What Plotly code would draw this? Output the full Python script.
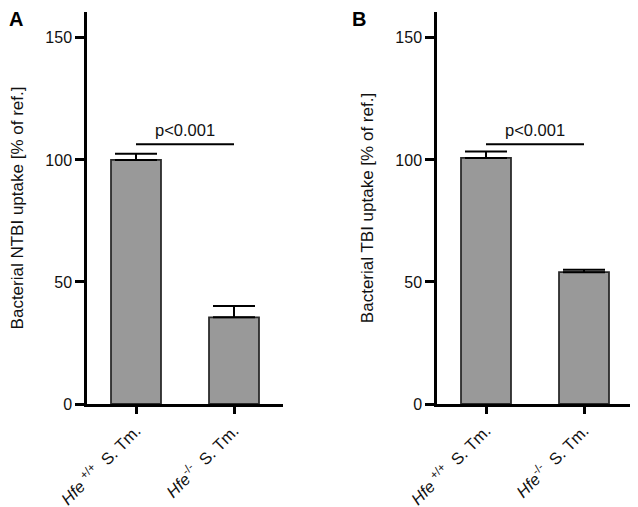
import plotly.graph_objects as go

categories = ["<i>Hfe</i> <sup>+/+</sup>  S. Tm.", "<i>Hfe</i><sup>-/-</sup>  S. Tm."]
ntbi_values = [100.0, 35.5]
ntbi_err = [2.5, 4.7]
tbi_values = [100.8, 54.0]
tbi_err = [2.6, 1.0]
y_ticks = [0, 50, 100, 150]
sig_level = 106.4
sig_text = "p<0.001"

FONT = "Liberation Sans, Arial, sans-serif"
fig = go.Figure()

for vals, errs, xa, ya in [(ntbi_values, ntbi_err, "x", "y"), (tbi_values, tbi_err, "x2", "y2")]:
    fig.add_trace(go.Bar(
        x=categories, y=vals, xaxis=xa, yaxis=ya, width=0.51,
        marker=dict(color="#999999", line=dict(color="#2b2b2b", width=1.8)),
        error_y=dict(type="data", symmetric=False, array=errs, arrayminus=[0, 0],
                     color="black", thickness=2, width=21),
        showlegend=False,
    ))

axis_common = dict(showline=True, linecolor="black", linewidth=2.5, ticks="outside",
                   tickwidth=3, tickcolor="black", showgrid=False, zeroline=False,
                   automargin=False,
                   tickfont=dict(family=FONT, size=16, color="#111"))
xfont = dict(family=FONT, size=16.5, color="#111")
yt_font = dict(family=FONT, size=17, color="#111")
fig.update_layout(
    width=630, height=499, plot_bgcolor="white", paper_bgcolor="white",
    margin=dict(l=79, r=5, t=4, b=103), bargap=0.49,
    xaxis=dict(domain=[0, 196/546], range=[-0.5, 1.5], tickangle=-45, ticklen=7, ticklabelstandoff=1,
               **{**axis_common, "tickfont": xfont}),
    xaxis2=dict(domain=[350/546, 1], range=[-0.5, 1.5], tickangle=-45, ticklen=7, anchor="y2", ticklabelstandoff=1,
                **{**axis_common, "tickfont": xfont}),
    yaxis=dict(range=[0, 160.6], tickvals=y_ticks, ticklen=9,
               title=dict(text="Bacterial NTBI uptake [% of ref.]", font=yt_font, standoff=18),
               **axis_common),
    yaxis2=dict(range=[0, 160.6], tickvals=y_ticks, ticklen=9, anchor="x2",
                title=dict(text="Bacterial TBI uptake [% of ref.]", font=yt_font, standoff=18),
                **axis_common),
)

for xa, ya in [("x", "y"), ("x2", "y2")]:
    fig.add_shape(type="line", xref=xa, yref=ya, x0=0, x1=1, y0=sig_level, y1=sig_level,
                  line=dict(color="black", width=2))
    fig.add_annotation(xref=xa, yref=ya, x=0.5, y=sig_level, text=sig_text, showarrow=False,
                       yanchor="bottom", yshift=3, font=dict(family=FONT, size=16.5, color="#111"))

fig.add_annotation(xref="paper", yref="paper", x=-80/546, y=1 + 6/392, xanchor="left", yanchor="top",
                   text="<b>A</b>", showarrow=False, font=dict(family=FONT, size=20, color="black"))
fig.add_annotation(xref="paper", yref="paper", x=263/546, y=1 + 6/392, xanchor="left", yanchor="top",
                   text="<b>B</b>", showarrow=False, font=dict(family=FONT, size=20, color="black"))

fig.write_html("out.html")
